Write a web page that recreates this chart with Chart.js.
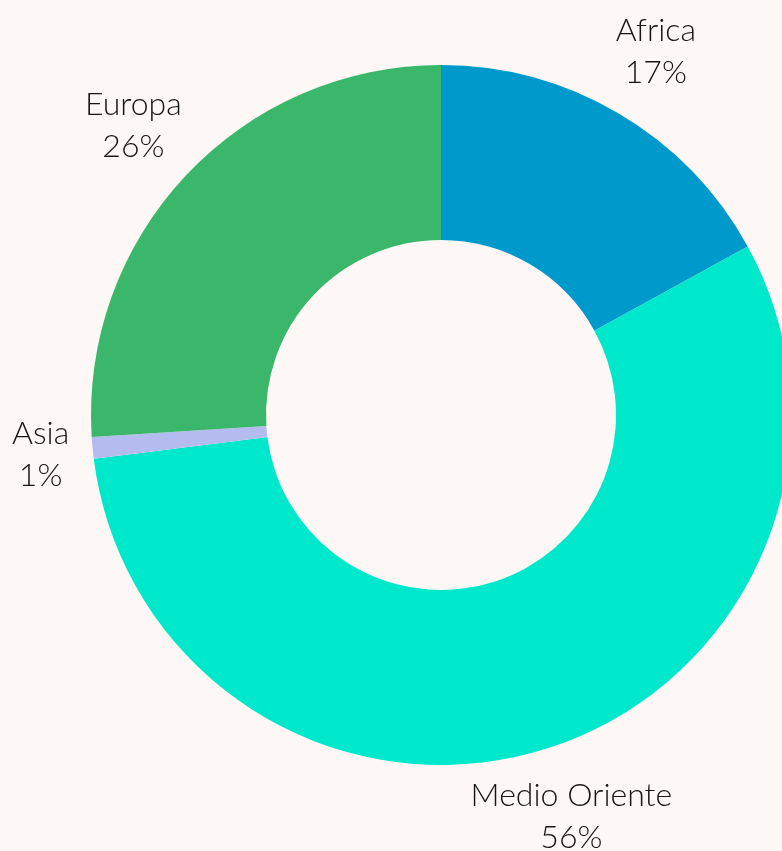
<!DOCTYPE html>
<html>
<head>
<meta charset="utf-8">
<script src="https://cdn.jsdelivr.net/npm/chart.js@4"></script>
<style>
  html, body { margin: 0; padding: 0; background: #fdf7f6; overflow: hidden; }
  #wrap { width: 800px; height: 851px; }
</style>
</head>
<body>
<div id="wrap"><canvas id="chart-regioni" width="800" height="851"></canvas></div>
<script>
const labels = ['Africa', 'Medio Oriente', 'Asia', 'Europa'];
const percentuali = [17, 56, 1, 26];
const coloriSlice = ['#0099cc', '#00e8cc', '#b3bbef', '#3ab76a'];

// etichette esterne: nome + percentuale, fuori dal bordo
const outerLabels = {
  id: 'outerLabels',
  afterDatasetsDraw(chart) {
    const ctx = chart.ctx;
    const meta = chart.getDatasetMeta(0);
    ctx.save();
    ctx.fillStyle = '#151515';
    ctx.font = '300 32px Lato, "Open Sans", sans-serif';
    ctx.textAlign = 'center';
    ctx.textBaseline = 'middle';
    meta.data.forEach((arc, i) => {
      const mid = (arc.startAngle + arc.endAngle) / 2;
      const r = arc.outerRadius + 72;
      let x = arc.x + Math.cos(mid) * r;
      const y = arc.y + Math.sin(mid) * r;
      const w = Math.max(ctx.measureText(labels[i]).width, ctx.measureText(percentuali[i] + '%').width);
      if (x - w / 2 < 12) x = 12 + w / 2;
      ctx.fillText(labels[i], x, y - 21);
      ctx.fillText(percentuali[i] + '%', x, y + 21);
    });
    ctx.restore();
  }
};

new Chart(document.getElementById('chart-regioni'), {
  type: 'doughnut',
  data: {
    labels: labels,
    datasets: [{
      data: percentuali,
      backgroundColor: coloriSlice,
      borderWidth: 0
    }]
  },
  options: {
    responsive: false,
    animation: false,
    cutout: '50%',
    layout: { padding: { left: 91, right: 9, top: 65, bottom: 86 } },
    plugins: {
      legend: { display: false },
      tooltip: { enabled: false }
    }
  },
  plugins: [outerLabels]
});
</script>
</body>
</html>
